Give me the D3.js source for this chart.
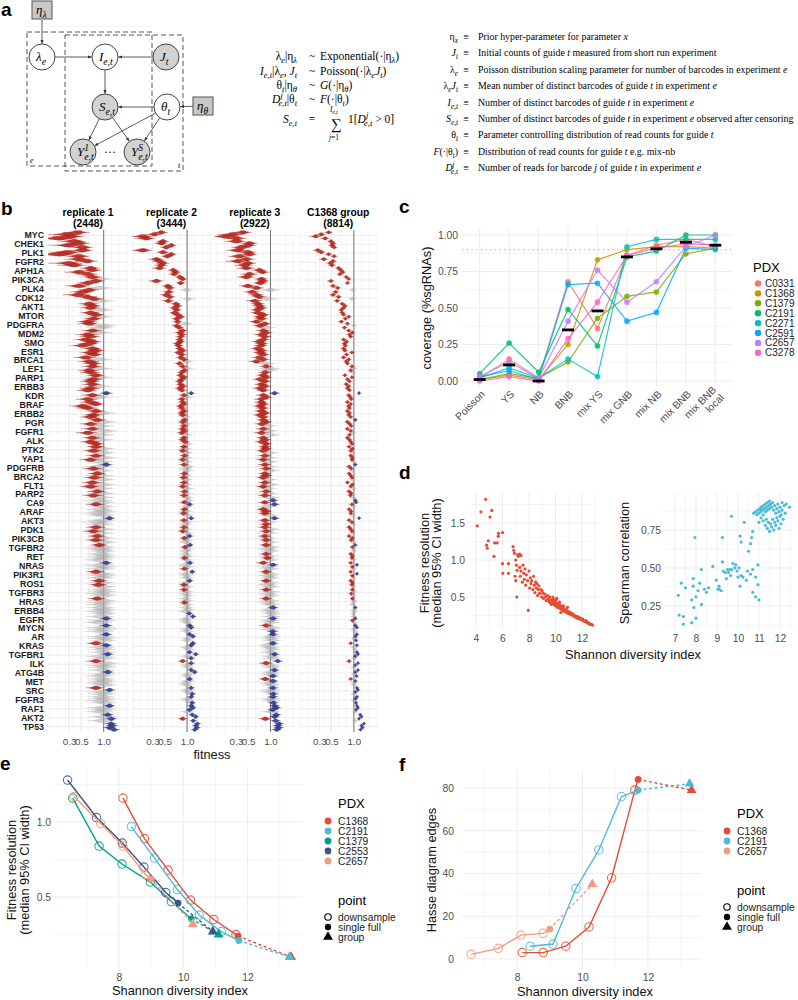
<!DOCTYPE html>
<html>
<head>
<meta charset="utf-8">
<script src="https://cdn.jsdelivr.net/npm/d3@7"></script>
<style>
  body { margin: 0; background: #fff; }
  svg { display: block; font-family: "Liberation Sans", Arial, sans-serif; }
</style>
</head>
<body>
<svg id="fig" width="798" height="1000"></svg>
<script>
// ---- panel a: model text ----
const equations = [
  ["λ_{e}|η_{λ}", "~", "Exponential(·|η_{λ})"],
  ["`I`_{e,t}|λ_{e}, `J`_{t}", "~", "Poisson(·|λ_{e}`J`_{t})"],
  ["θ_{t}|η_{θ}", "~", "`G`(·|η_{θ})"],
  ["`D`^{j}_{e,t}|θ_{t}", "~", "`F`(·|θ_{t})"]
];
const definitions = [
  ["η_{x}", "Prior hyper-parameter for parameter `x`"],
  ["`J`_{t}", "Initial counts of guide `t` measured from short run experiment"],
  ["λ_{e}", "Poisson distribution scaling parameter for number of barcodes in experiment `e`"],
  ["λ_{e}`J`_{t}", "Mean number of distinct barcodes of guide `t` in experiment `e`"],
  ["`I`_{e,t}", "Number of distinct barcodes of guide `t` in experiment `e`"],
  ["`S`_{e,t}", "Number of distinct barcodes of guide `t` in experiment `e` observed after censoring"],
  ["θ_{t}", "Parameter controlling distribution of read counts for guide `t`"],
  ["`F`(·|θ_{t})", "Distribution of read counts for guide `t` e.g. mix-nb"],
  ["`D`^{j}_{e,t}", "Number of reads for barcode `j` of guide `t` in experiment `e`"]
];

// ---- panel b: guide fitness per gene (fitness*100 + call r/g/b) ----
const genes = ["MYC","CHEK1","PLK1","FGFR2","APH1A","PIK3CA","PLK4","CDK12","AKT1","MTOR","PDGFRA","MDM2","SMO","ESR1","BRCA1","LEF1","PARP1","ERBB3","KDR","BRAF","ERBB2","PGR","FGFR1","ALK","PTK2","YAP1","PDGFRB","BRCA2","FLT1","PARP2","CA9","ARAF","AKT3","PDK1","PIK3CB","TGFBR2","RET","NRAS","PIK3R1","ROS1","TGFBR3","HRAS","ERBB4","EGFR","MYCN","AR","KRAS","TGFBR1","ILK","ATG4B","MET","SRC","FGFR3","RAF1","AKT2","TP53"];
const facetNames = ["replicate 1", "replicate 2", "replicate 3", "C1368 group"];
const facetCounts = ["(2448)", "(3444)", "(2922)", "(8814)"];
const fitTicks = [0.3, 0.5, 1.0];
const rep1Guides = ["44r 28r 33r 18r","38r 46r 30r 53r","53r 28r 18r 46r","46r 62r 30r 38r","69r 73r 46r 63r","73r 89g 81r 63r","46r 89g 66r 53r","44r 62r 77r 93g","66r 73r 69r 93g","69r 81r 89g 75r","63r 66r 100g 93g","73r 89g 63r 69r","59r 73r 66r 53r","73r 81r 69r 77r","59r 89g 66r 75r","73r 89g 66r 69r","81r 89g 75r 69r","73r 84g 69r 63r","107b 73r 89g 63r","69r 81r 53r 63r","81r 97g 75r 69r","84r 100g 69r 93g","73r 103g 63r 93g","73r 93g 69r 81r","81r 97g 75r 100g","81r 100g 69r 93g","107b 89g 75r 93g","84r 93g 77r 97g","73r 97g 69r 93g","84r 97g 75r 93g","89g 97g 81r 100g","93g 100g 87g 96g","116b 97g 87g 93g","81r 97g 75r 93g","84r 97g 81r 103g","89r 97g 93g 100g","93g 100g 96g 89g","107b 93g 100g 96g","81r 96g 100g 93g","89r 97g 87r 100g","96g 100g 93g 103g","84r 100g 96g 93g","96g 100g 93g 103g","93g 107b 100g 89g","107b 97g 100g 93g","107b 97g 100g 103g","81r 107b 97g 100g","100g 111b 93g 103g","81r 107g 97g 100g","97g 111b 100g 93g","97g 100g 93g 103g","81r 116b 97g 100g","96g 100g 93g 103g","116b 97g 100g 93g","111b 100g 121b 97g","120b 124b 116b 129b"];
const rep2Guides = ["44r 33r 18r 22r","47r 44r 63r 53r","18r 47r 63r 55r","36r 41r 47r 44r","41r 67r 73r 69r","82r 89r 36r 84r","56r 60r 99g 58r","53r 60r 103g 57r","73r 77r 70r 75r","70r 77r 84r 75r","77r 97g 75r 81r","89r 82r 87r 84r","82r 84r 77r 79r","82r 89r 79r 87r","84r 92r 99g 81r","89r 99g 93r 87r","84r 92r 87r 82r","84r 89r 82r 87r","111b 92r 99g 87r","89r 92r 84r 87r","92r 87r 89r 95g","93r 89r 96g 92r","89r 93r 87r 97g","92r 89r 95r 99g","92r 96g 89r 99g","93r 97g 89r 99g","92r 103g 96g 99g","93r 97g 91r 99g","92r 97g 89r 100g","93r 97g 92r 100g","103g 93r 107b 99g","93r 97g 91r 100g","111b 92r 99g 96g","92r 97g 89r 100g","107b 93r 99g 96g","108b 95r 100g 97g","96g 100g 93r 99g","108b 96g 100g 93r","114b 96g 100g 99g","107b 96g 92r 100g","92r 99g 96g 101g","96g 99g 93r 101g","99g 103g 96g 106b","116b 99g 96g 101g","107b 111b 99g 101g","107b 116b 103g 100g","116b 111b 100g 104g","107b 124b 101g 111b","89r 111b 100g 103g","111b 121b 103g 100g","107b 103g 96g 100g","111b 100g 103g 114b","111b 101g 104g 114b","111b 116b 107b 101g","114b 124b 89r 117b","129b 124b 128b 121b"];
const rep3Guides = ["41r 26r 18r 31r","31r 53r 50r 39r","33r 50r 53r 35r","47r 33r 50r 44r","47r 73r 81r 53r","47r 78r 81r 75r","50r 67r 100g 58r","67r 73r 93g 63r","70r 73r 77r 69r","70r 82r 75r 78r","67r 86r 75r 89g","82r 89r 78r 86r","82r 73r 79r 77r","70r 78r 75r 82r","73r 82r 67r 89g","89r 99g 93g 87r","82r 89r 75r 86r","78r 86r 75r 82r","111b 82r 89r 78r","78r 82r 75r 81r","78r 86r 75r 82r","82r 89r 79r 93g","82r 95g 78r 100g","82r 87r 79r 89r","86r 89r 82r 96g","86r 93g 82r 97g","86r 93g 89r 99g","86r 89r 82r 95g","86r 99g 82r 93g","89r 95g 86r 99g","107b 86r 111b 93g","82r 89r 86r 96g","111b 86r 93g 89r","86r 99g 89r 95g","86r 93g 89r 99g","89r 99g 93g 100g","89r 95g 92r 99g","82r 107b 93g 99g","89r 99g 95g 100g","89r 99g 93g 101g","89r 99g 95g 101g","89r 99g 95g 101g","107b 99g 101g 104g","103g 107b 99g 101g","89r 103g 99g 106b","107b 103g 100g 106g","107b 93g 100g 104g","99g 111b 103g 106g","120b 89r 100g 104g","111b 103g 100g 107b","87r 107b 99g 103g","107b 103g 100g 108b","107b 101g 104g 108b","111b 116b 106b 103g","116b 111b 87r 114b","124b 120b 123b 117b"];
const groupGuides = ["45r 33r 25r 39r","49r 53r 51r 55r","28r 33r 45r 55r","37r 53r 48r 51r","64r 69r 73r 67r","81r 87r 49r 84r","53r 62r 97g 58r","53r 64r 95g 61r","72r 78r 75r 70r","72r 75r 87r 79r","70r 84r 100g 77r","87r 96r 89r 92r","75r 82r 77r 79r","75r 78r 95r 82r","75r 87r 81r 84r","95r 100g 92r 97g","78r 95r 84r 89r","81r 87r 84r 89r","114b 87r 91r 93r","84r 92r 87r 89r","84r 89r 87r 92r","104b 84r 89r 93r","84r 92r 97g 89r","84r 89r 92r 95r","88r 96r 92r 97g","92r 96r 95r 99g","104b 88r 93r 97g","88r 92r 95r 97g","84r 96r 92r 99g","88r 93r 91r 97g","104b 106b 95r 99g","88r 93r 92r 97g","114b 88r 95r 99g","88r 92r 95r 97g","88r 96r 93r 99g","104b 96r 99g 100g","92r 96r 95r 99g","92r 108b 96r 99g","92r 108b 96r 100g","92r 96r 95r 99g","96r 100g 93r 99g","96r 100g 99g 97g","104b 100g 101g 99g","100g 104b 96r 101g","104b 108b 100g 103g","108b 104b 100g 106b","92r 108b 100g 103g","108b 111b 104b 101g","88r 111b 104b 100g","111b 104b 100g 107b","92r 104b 100g 101g","108b 111b 104b 100g","108b 104b 100g 106b","108b 111b 106b 103g","117b 121b 114b 103g","128b 121b 124b 118b"];
// posterior spread (sd in fitness units) by facet and call
const guideSd = [{r: 0.075, g: 0.12, b: 0.06}, {r: 0.04, g: 0.06, b: 0.035}, {r: 0.055, g: 0.085, b: 0.05}, {r: 0.024, g: 0.03, b: 0.022}];

// ---- panel c: coverage by model ----
const models = ["Poisson","YS","NB","BNB","mix YS","mix GNB","mix NB","mix BNB","mix BNB local"];
const pdxC = ["C0331","C1368","C1379","C2191","C2271","C2591","C2657","C3278"];
const coverage = [
  [0.02, 0.15, 0.02, 0.68, 0.36, 0.86, 0.93, 0.97, 0.92],
  [0.01, 0.04, 0.01, 0.25, 0.83, 0.90, 0.92, 0.92, 0.91],
  [0.01, 0.05, 0.02, 0.13, 0.43, 0.58, 0.61, 0.87, 0.91],
  [0.05, 0.26, 0.06, 0.49, 0.24, 0.85, 0.89, 1.00, 1.00],
  [0.02, 0.09, 0.02, 0.15, 0.03, 0.92, 0.97, 0.97, 0.97],
  [0.03, 0.07, 0.01, 0.66, 0.67, 0.41, 0.47, 0.91, 0.90],
  [0.03, 0.13, 0.02, 0.41, 0.76, 0.54, 0.68, 0.92, 1.00],
  [0.00, 0.03, 0.00, 0.29, 0.54, 0.86, 0.91, 0.94, 0.93]
];
const coverageMedian = [0.01, 0.11, 0.00, 0.35, 0.48, 0.85, 0.905, 0.95, 0.93];
const pdxCColours = ["#F8766D","#CD9600","#7CAE00","#00BE67","#00BFC4","#00A9FF","#C77CFF","#FF61CC"];

// ---- panel d: downsampled experiments ----
const dResolution = [[4.1,1.46],[4.38,1.65],[4.73,1.82],[5.06,1.58],[5.19,1.67],[4.8,1.2],[4.86,1.16],[4.93,1.26],[5.36,1.05],[5.4,1.23],[5.6,1.23],[5.7,1.36],[5.68,1.32],[6.0,1.37],[6.0,0.95],[6.02,0.82],[6.45,0.95],[6.45,0.82],[6.8,1.18],[6.85,1.13],[6.9,1.09],[7.0,1.0],[7.1,0.86],[7.08,0.5],[7.15,1.07],[7.2,1.05],[7.3,1.08],[7.4,1.06],[7.05,0.93],[6.95,0.78],[7.0,0.72],
  [7.3,0.9],[7.35,0.78],[7.4,0.85],[7.5,0.7],[7.55,0.93],[7.6,0.82],[7.65,0.74],[7.7,0.88],[7.75,0.66],[7.8,0.8],[7.9,0.72],[7.95,0.32],[8.0,0.85],[8.05,0.62],
  [8.1,0.76],[8.15,0.68],[8.2,0.72],[8.3,0.6],[8.35,0.78],[8.4,0.66],[8.45,0.56],[8.5,0.7],[8.55,0.62],[8.6,0.68],[8.65,0.52],[8.7,0.6],[8.75,0.65],[8.8,0.55],[8.9,0.6],[8.95,0.5],
  [9.0,0.58],[9.05,0.55],[9.1,0.48],[9.2,0.54],[9.25,0.5],[9.3,0.45],[9.4,0.52],[9.45,0.47],[9.5,0.44],[9.55,0.5],[9.6,0.42],[9.65,0.46],[9.7,0.4],[9.75,0.45],[9.8,0.42],[9.85,0.47],[9.9,0.4],[9.95,0.44],
  [10.0,0.38],[10.02,0.42],[10.05,0.46],[10.1,0.4],[10.15,0.36],[10.2,0.41],[10.25,0.38],[10.3,0.35],[10.35,0.39],[10.4,0.34],[10.45,0.37],[10.5,0.33],[10.55,0.36],[10.6,0.31],[10.65,0.34],[10.7,0.32],[10.75,0.3],[10.8,0.33],[10.85,0.29],[10.9,0.31],[10.95,0.28],
  [11.0,0.3],[11.05,0.27],[11.1,0.29],[11.2,0.26],[11.25,0.28],[11.3,0.25],[11.4,0.26],[11.45,0.23],[11.5,0.24],[11.6,0.22],[11.65,0.24],[11.7,0.21],[11.8,0.22],[11.85,0.2],[11.9,0.21],
  [12.0,0.19],[12.05,0.2],[12.1,0.18],[12.2,0.17],[12.3,0.18],[12.35,0.16],[12.4,0.15],[12.5,0.15],[12.55,0.14],[12.6,0.13],[12.7,0.13],[12.8,0.12],
  [10.1,0.48],[10.3,0.43],[10.6,0.38],[9.8,0.5],[10.4,0.29],[10.9,0.36]];
const dSpearman = [[7.16,0.32],[7.2,0.19],[7.4,0.18],[7.4,0.13],[7.8,0.14],[8.0,0.17],[7.9,0.24],[7.8,0.29],[7.87,0.38],[7.87,0.43],[7.5,0.37],[7.3,0.4],[8.26,0.49],[8.18,0.40],[8.1,0.35],[8.26,0.26],[8.4,0.36],[8.6,0.37],[7.95,0.70],[8.5,0.34],[8.0,0.31],
  [8.8,0.51],[8.97,0.42],[9.05,0.36],[9.1,0.36],[9.1,0.38],[9.2,0.35],[9.26,0.54],[9.3,0.48],[9.4,0.47],[9.5,0.49],[9.55,0.47],[9.6,0.49],[9.65,0.45],[9.7,0.49],[9.76,0.53],[9.85,0.5],[9.9,0.52],[9.95,0.48],[10.0,0.44],[10.05,0.5],[10.1,0.38],[10.15,0.45],[10.24,0.44],[10.4,0.42],[10.45,0.48],[10.7,0.49],[10.84,0.44],[10.95,0.52],[10.95,0.39],[10.84,0.31],[11.0,0.29],[10.7,0.34],[10.6,0.46],[9.26,0.70],[9.69,0.84],[9.45,0.43],
  [10.1,0.71],[10.15,0.67],[10.3,0.80],[10.5,0.61],[10.6,0.66],[10.65,0.70],[10.7,0.74],
  [10.75,0.86],[10.85,0.87],[10.9,0.85],[10.95,0.88],[11.0,0.86],[11.05,0.89],[11.1,0.87],[11.1,0.9],[11.15,0.88],[11.2,0.91],[11.25,0.89],[11.3,0.92],[11.3,0.87],[11.35,0.9],[11.4,0.93],[11.4,0.88],[11.45,0.91],[11.5,0.94],[11.5,0.89],[11.55,0.92],[11.6,0.9],[11.65,0.93],[11.7,0.88],[11.75,0.91],[11.8,0.86],[11.85,0.89],[11.9,0.92],[11.95,0.87],[12.0,0.9],[12.05,0.85],[12.1,0.88],[12.2,0.91],[12.3,0.92],[12.45,0.90],[12.1,0.93],
  [11.2,0.81],[11.3,0.78],[11.35,0.82],[11.4,0.76],[11.45,0.8],[11.5,0.74],[11.55,0.79],[11.6,0.77],[11.65,0.82],[11.7,0.75],[11.75,0.8],[11.8,0.78],[11.85,0.83],[11.9,0.81],[11.95,0.76],[12.0,0.84],[12.05,0.79],[12.15,0.82],[12.25,0.86],[11.1,0.83],[11.0,0.8],[11.2,0.85]];

// ---- panel e: resolution vs diversity ----
const pdxE = ["C1368","C2191","C1379","C2553","C2657"];
const pdxEColours = ["#E64B35","#4DBBD5","#00A087","#3C5488","#F39B7F"];
const eShannon = [[8.13,8.8,9.53,10.23,10.95,11.64,11.7,13.35],[8.39,9.11,9.82,10.5,11.18,11.73,13.3],[6.57,7.39,8.1,8.98,9.63,10.25,11.1],[6.41,7.31,8.11,8.78,9.46,9.84,10.92],[6.61,7.44,8.13,8.83,9.01,10.3]];
const eResolution = [[1.16,0.89,0.68,0.48,0.35,0.25,0.24,0.10],[0.97,0.76,0.55,0.38,0.27,0.21,0.10],[1.16,0.84,0.72,0.60,0.47,0.355,0.25],[1.28,1.03,0.86,0.70,0.53,0.46,0.27],[1.17,0.99,0.84,0.65,0.62,0.32]];
const eKind = [["d","d","d","d","d","d","s","g"],["d","d","d","d","d","s","g"],["d","d","d","d","d","s","g"],["d","d","d","d","d","s","g"],["d","d","d","d","s","g"]];

// ---- panel f: Hasse diagram edges ----
const pdxF = ["C1368","C2191","C2657"];
const pdxFColours = ["#E64B35","#4DBBD5","#F39B7F"];
const fShannon = [[8.16,8.8,9.49,10.2,10.89,11.6,11.7,13.33],[8.4,9.1,9.8,10.5,11.19,11.7,13.27],[6.6,7.43,8.12,8.8,9.0,10.3]];
const fEdges = [[3,3,6,15,38,79,84,79],[6,7,33,51,76,79,82],[2.2,5,11.2,12,14,35]];
const fKind = [["d","d","d","d","d","d","s","g"],["d","d","d","d","d","s","g"],["d","d","d","d","s","g"]];
const pointKinds = ["downsample", "single full", "group"];

const svg = d3.select("#fig");
const TICK = "#4d4d4d", GMAJ = "#e8e8e8", GMIN = "#f3f3f3";

// Write text with _{sub}, ^{sup} and `italic` markup
function mathText(sel, str, size) {
  const re = /(_|\^)\{([^}]*)\}|`([^`]*)`|([^_^`]+)/g;
  let m, shift = 0, lastSup = "";
  while ((m = re.exec(str))) {
    if (m[1]) {
      const s = m[1] === "_" ? size * 0.3 : -size * 0.42;
      const t = sel.append("tspan").attr("dy", s - shift).attr("font-size", size * 0.74)
        .attr("font-style", "italic").text(m[2]);
      if (m[1] === "_" && lastSup) t.attr("dx", -lastSup.length * size * 0.37);
      lastSup = m[1] === "^" ? m[2] : "";
      shift = s;
    } else {
      sel.append("tspan").attr("dy", -shift).attr("font-size", size)
        .attr("font-style", m[3] ? "italic" : null).text(m[3] || m[4]);
      shift = 0; lastSup = "";
    }
  }
}

function panelLabel(t, x, y) {
  svg.append("text").attr("x", x).attr("y", y).attr("font-size", 19)
    .attr("font-weight", "bold").text(t);
}

function drawGrid(g, xs, ys, xMaj, xMin, yMaj, yMin) {
  const [x0, x1] = xs.range(), [y0, y1] = ys.range();
  const vl = (vals, col) => g.append("g").selectAll("line").data(vals).join("line")
    .attr("x1", d => xs(d)).attr("x2", d => xs(d)).attr("y1", y0).attr("y2", y1)
    .attr("stroke", col).attr("stroke-width", 0.8);
  const hl = (vals, col) => g.append("g").selectAll("line").data(vals).join("line")
    .attr("y1", d => ys(d)).attr("y2", d => ys(d)).attr("x1", x0).attr("x2", x1)
    .attr("stroke", col).attr("stroke-width", 0.8);
  vl(xMin, GMIN); hl(yMin, GMIN); vl(xMaj, GMAJ); hl(yMaj, GMAJ);
}

function styleAxis(g, size) {
  g.select(".domain").remove();
  g.attr("font-family", null).attr("font-size", null);
  g.selectAll("text").attr("fill", TICK).attr("font-size", size || 10.3);
}

function axisTitle(text, x, y, rotate) {
  const t = svg.append("text").attr("font-size", 12.8).attr("fill", "#111")
    .attr("text-anchor", "middle").attr("dy", "0.35em").text(text);
  if (rotate) t.attr("transform", `translate(${x},${y}) rotate(-90)`);
  else t.attr("x", x).attr("y", y);
}

// ================= panel a =================
panelLabel("a", 1, 16);
const ga = svg.append("g").attr("font-family", "'Liberation Serif', 'DejaVu Serif', serif");
ga.append("defs").append("marker").attr("id", "arr").attr("viewBox", "0 0 10 10")
  .attr("refX", 9).attr("refY", 5).attr("markerWidth", 5).attr("markerHeight", 5)
  .attr("orient", "auto").append("path").attr("d", "M0,1 L10,5 L0,9 Z").attr("fill", "#333");

ga.append("rect").attr("x", 27).attr("y", 32).attr("width", 125).attr("height", 134)
  .attr("fill", "none").attr("stroke", "#555").attr("stroke-dasharray", "5,3");
ga.append("rect").attr("x", 65).attr("y", 35).attr("width", 118).attr("height", 136)
  .attr("fill", "none").attr("stroke", "#555").attr("stroke-dasharray", "5,3");
ga.append("text").attr("x", 30).attr("y", 163).attr("font-size", 8).attr("font-style", "italic").text("e");
ga.append("text").attr("x", 178).attr("y", 168).attr("font-size", 8).attr("font-style", "italic").text("t");

const gmNodes = [
  {id: "lam", x: 42, y: 57, obs: false, label: "λ_{e}"},
  {id: "I", x: 105, y: 57, obs: false, label: "`I`_{e,t}"},
  {id: "J", x: 166, y: 57, obs: true, label: "`J`_{t}"},
  {id: "S", x: 105, y: 107, obs: true, label: "`S`_{e,t}"},
  {id: "th", x: 167, y: 107, obs: false, label: "θ_{t}"},
  {id: "Y1", x: 83, y: 152, obs: true, label: "`Y`^{1}_{e,t}"},
  {id: "YS", x: 137, y: 152, obs: true, label: "`Y`^{S}_{e,t}"},
  {id: "el", x: 42, y: 10, box: true, label: "η_{λ}"},
  {id: "et", x: 203, y: 106, box: true, label: "η_{θ}"}
];
const gmEdges = [["el","lam"],["lam","I"],["J","I"],["I","S"],["th","S"],["et","th"],["S","Y1"],["S","YS"],["th","Y1"],["th","YS"]];
const nodeById = new Map(gmNodes.map(n => [n.id, n]));
gmEdges.forEach(([s, t]) => {
  const a = nodeById.get(s), b = nodeById.get(t);
  const dx = b.x - a.x, dy = b.y - a.y, len = Math.hypot(dx, dy);
  const ra = a.box ? 10 : 13, rb = b.box ? 10 : 13.5;
  ga.append("line")
    .attr("x1", a.x + dx / len * ra).attr("y1", a.y + dy / len * ra)
    .attr("x2", b.x - dx / len * rb).attr("y2", b.y - dy / len * rb)
    .attr("stroke", "#333").attr("stroke-width", 0.8).attr("marker-end", "url(#arr)");
});
gmNodes.forEach(n => {
  if (n.box) {
    ga.append("rect").attr("x", n.x - 10).attr("y", n.y - 9).attr("width", 20).attr("height", 18)
      .attr("fill", "#c8c8c8").attr("stroke", "#555");
  } else {
    ga.append("circle").attr("cx", n.x).attr("cy", n.y).attr("r", 13)
      .attr("fill", n.obs ? "#d2d2d2" : "#fff").attr("stroke", "#444");
  }
  const t = ga.append("text").attr("x", n.x - 6).attr("y", n.y + 4).attr("font-style", "italic");
  mathText(t, n.label, 13);
});
ga.append("text").attr("x", 110).attr("y", 156).attr("text-anchor", "middle").attr("font-size", 12).text("···");

// equations
const eqY = [56, 71, 85, 99];
equations.forEach((eq, i) => {
  const l = ga.append("text").attr("x", 297).attr("y", eqY[i] + 4).attr("text-anchor", "end");
  mathText(l, eq[0], 11.5);
  ga.append("text").attr("x", 312).attr("y", eqY[i] + 4).attr("text-anchor", "middle").attr("font-size", 11.5).text(eq[1]);
  const r = ga.append("text").attr("x", 320).attr("y", eqY[i] + 4);
  mathText(r, eq[2], 11.5);
});
const sl = ga.append("text").attr("x", 297).attr("y", 123).attr("text-anchor", "end");
mathText(sl, "`S`_{e,t}", 11.5);
ga.append("text").attr("x", 312).attr("y", 123).attr("text-anchor", "middle").attr("font-size", 11.5).text("=");
ga.append("text").attr("x", 336).attr("y", 129).attr("text-anchor", "middle").attr("font-size", 15).text("∑");
mathText(ga.append("text").attr("x", 330).attr("y", 112), "`I`_{e,t}", 7.5);
mathText(ga.append("text").attr("x", 329).attr("y", 140), "`j`=1", 7.5);
mathText(ga.append("text").attr("x", 348).attr("y", 123), "1[`D`^{j}_{e,t} > 0]", 11.5);

// definitions, font fitted so the longest line spans the reference width
function drawDefinitions(size) {
  const g = ga.append("g");
  definitions.forEach((d, i) => {
    const y = 40 + i * 16.4;
    mathText(g.append("text").attr("x", 458).attr("y", y).attr("text-anchor", "end"), d[0], size);
    g.append("text").attr("x", 466).attr("y", y).attr("text-anchor", "middle").attr("font-size", size).text("≡");
    mathText(g.append("text").attr("class", "deftext").attr("x", 478).attr("y", y), d[1], size);
  });
  return g;
}
let defG = drawDefinitions(10);
const longest = d3.max(defG.selectAll(".deftext").nodes(), n => n.getComputedTextLength());
defG.remove();
drawDefinitions(Math.min(11, 10 * 316 / longest));

// ================= panel b =================
panelLabel("b", 1, 215);
const bTop = 230, bBottom = 732, facetX0 = 48, facetW = 80, facetStep = 83.4;
const yGene = d3.scalePoint().domain(genes).range([bTop, bBottom]).padding(0.6);
const xFit = d3.scaleSqrt().domain([0.074, 1.737]).range([0, facetW]);
const fitMinor = d3.range(0.3, 1.35, 0.1).map(s => s * s);
const guideOffsets = [-3, -1, 1, 3];
const callColour = {r: "#b3261e", g: "#a8a8a8", b: "#323a8c"};
const violinArea = d3.area().x(d => d[0]).y0(d => d[1]).y1(d => d[2]).curve(d3.curveBasis);
const facetGuides = [rep1Guides, rep2Guides, rep3Guides, groupGuides];
const violinH = [2.0, 2.0, 2.0, 1.8];

const gb = svg.append("g");
gb.append("g").selectAll("text").data(genes).join("text")
  .attr("x", 44).attr("y", d => yGene(d)).attr("dy", "0.35em").attr("text-anchor", "end")
  .attr("font-size", 8.8).attr("font-weight", "bold").attr("fill", "#1a1a1a").text(d => d);

facetGuides.forEach((rows, f) => {
  const x0 = facetX0 + f * facetStep;
  const g = gb.append("g").attr("transform", `translate(${x0},0)`);
  const ys = d3.scaleLinear().range([bTop, bBottom]);
  drawGrid(g, xFit, ys, fitTicks, fitMinor, [], []);
  g.append("g").selectAll("line").data(genes).join("line")
    .attr("x1", 0).attr("x2", facetW).attr("y1", d => yGene(d)).attr("y2", d => yGene(d))
    .attr("stroke", GMAJ).attr("stroke-width", 0.8);
  g.append("line").attr("x1", xFit(1)).attr("x2", xFit(1)).attr("y1", bTop).attr("y2", bBottom)
    .attr("stroke", "#666").attr("stroke-width", 0.9);

  const guides = [];
  rows.forEach((row, gi) => {
    row.split(" ").forEach((tok, k) => {
      guides.push({gene: genes[gi], k, v: +tok.slice(0, -1) / 100, call: tok.slice(-1)});
    });
  });
  guides.sort((a, b) => (a.call === "g" ? 0 : 1) - (b.call === "g" ? 0 : 1));
  g.append("g").selectAll("path").data(guides).join("path")
    .attr("d", d => {
      const sd = guideSd[f][d.call], yc = yGene(d.gene) + guideOffsets[d.k];
      const pts = d3.range(-12, 13).map(j => {
        const u = j / 4;
        const h = violinH[f] * Math.exp(-u * u / 2);
        return [xFit(Math.max(0.075, d.v + u * sd)), yc - h, yc + h];
      });
      return violinArea(pts);
    })
    .attr("fill", d => callColour[d.call])
    .attr("fill-opacity", d => d.call === "g" ? 0.55 : 0.92)
    .attr("stroke", d => callColour[d.call]).attr("stroke-width", 0.3).attr("stroke-opacity", 0.5);

  const ax = g.append("g").attr("transform", `translate(0,${bBottom})`)
    .call(d3.axisBottom(xFit).tickValues(fitTicks).tickFormat(d3.format(".1f")).tickSize(0).tickPadding(6));
  styleAxis(ax, 9.8);

  gb.append("text").attr("x", x0 + facetW / 2).attr("y", 216).attr("text-anchor", "middle")
    .attr("font-size", 10.3).attr("font-weight", "bold").text(facetNames[f]);
  gb.append("text").attr("x", x0 + facetW / 2).attr("y", 227).attr("text-anchor", "middle")
    .attr("font-size", 10.3).attr("font-weight", "bold").text(facetCounts[f]);
});
axisTitle("fitness", 212, 755);

// ================= panel c =================
panelLabel("c", 399, 213);
const xModel = d3.scalePoint().domain(models).range([462, 733]).padding(0.6);
const yCov = d3.scaleLinear().domain([-0.05, 1.05]).range([388.3, 227.7]);
const gc = svg.append("g");
drawGrid(gc, xModel, yCov, models, [], [0, 0.25, 0.5, 0.75, 1], [0.125, 0.375, 0.625, 0.875]);
gc.append("line").attr("x1", 462).attr("x2", 733).attr("y1", yCov(0.9)).attr("y2", yCov(0.9))
  .attr("stroke", "#b0b0b0").attr("stroke-width", 1.1).attr("stroke-dasharray", "1.2,3.5");
const covLine = d3.line().x((d, i) => xModel(models[i])).y(d => yCov(d));
gc.append("g").selectAll("path").data(coverage).join("path")
  .attr("d", covLine).attr("fill", "none")
  .attr("stroke", (d, i) => pdxCColours[i]).attr("stroke-width", 1.2).attr("stroke-opacity", 0.85);
coverage.forEach((row, i) => {
  gc.append("g").selectAll("circle").data(row).join("circle")
    .attr("cx", (d, j) => xModel(models[j])).attr("cy", d => yCov(d)).attr("r", 2.8)
    .attr("fill", pdxCColours[i]).attr("fill-opacity", 0.85);
});
gc.append("g").selectAll("rect").data(coverageMedian).join("rect")
  .attr("x", (d, j) => xModel(models[j]) - 6).attr("y", d => yCov(d) - 1.4)
  .attr("width", 12).attr("height", 2.8).attr("fill", "#000");
const cy = gc.append("g").attr("transform", "translate(462,0)")
  .call(d3.axisLeft(yCov).tickValues([0, 0.25, 0.5, 0.75, 1]).tickFormat(d3.format(".2f")).tickSize(0).tickPadding(4));
styleAxis(cy);
gc.append("g").selectAll("text").data(models).join("text")
  .attr("transform", d => `translate(${xModel(d) + 3},${392}) rotate(-45)`)
  .attr("text-anchor", "end").attr("font-size", 10.3).attr("fill", TICK)
  .each(function(d) {
    const parts = d === "mix BNB local" ? ["mix BNB", "local"] : [d];
    const t = d3.select(this);
    parts.forEach((p, k) => t.append("tspan").attr("x", 0).attr("y", parts.length > 1 ? (k === 0 ? -2 : 9) : 4).text(p));
  });
axisTitle("coverage (%sgRNAs)", 427, 308, true);
gc.append("text").attr("x", 753).attr("y", 272).attr("font-size", 13).text("PDX");
pdxC.forEach((p, i) => {
  const y = 283.5 + i * 9.9;
  gc.append("circle").attr("cx", 758).attr("cy", y).attr("r", 3.2).attr("fill", pdxCColours[i]);
  gc.append("text").attr("x", 765).attr("y", y).attr("dy", "0.35em").attr("font-size", 10).attr("fill", "#222").text(p);
});

// ================= panel d =================
panelLabel("d", 399, 479);
const gd = svg.append("g");
const xdL = d3.scaleLinear().domain([3.4, 13.13]).range([468, 597]);
const ydL = d3.scaleLinear().domain([0.054, 1.905]).range([630, 493]);
drawGrid(gd, xdL, ydL, [4, 6, 8, 10, 12], [5, 7, 9, 11, 13], [0.5, 1.0, 1.5], [0.25, 0.75, 1.25, 1.75]);
gd.append("g").selectAll("circle").data(dResolution).join("circle")
  .attr("cx", d => xdL(d[0])).attr("cy", d => ydL(d[1])).attr("r", 1.6).attr("fill", "#E64B35");
styleAxis(gd.append("g").attr("transform", "translate(468,0)")
  .call(d3.axisLeft(ydL).tickValues([0.5, 1.0, 1.5]).tickFormat(d3.format(".1f")).tickSize(0).tickPadding(3)));
styleAxis(gd.append("g").attr("transform", "translate(0,630)")
  .call(d3.axisBottom(xdL).tickValues([4, 6, 8, 10, 12]).tickFormat(d3.format("d")).tickSize(0).tickPadding(5)));
axisTitle("Fitness resolution", 425, 563, true);
axisTitle("(median 95% CI width)", 437, 563, true);

const xdR = d3.scaleLinear().domain([6.43, 12.62]).range([663, 793]);
const ydR = d3.scaleLinear().domain([0.092, 0.993]).range([630, 493]);
drawGrid(gd, xdR, ydR, [7, 8, 9, 10, 11, 12], [7.5, 8.5, 9.5, 10.5, 11.5, 12.5], [0.25, 0.5, 0.75], [0.125, 0.375, 0.625, 0.875]);
gd.append("g").selectAll("circle").data(dSpearman).join("circle")
  .attr("cx", d => xdR(d[0])).attr("cy", d => ydR(d[1])).attr("r", 1.6).attr("fill", "#4DBBD5");
styleAxis(gd.append("g").attr("transform", "translate(663,0)")
  .call(d3.axisLeft(ydR).tickValues([0.25, 0.5, 0.75]).tickFormat(d3.format(".2f")).tickSize(0).tickPadding(2)));
styleAxis(gd.append("g").attr("transform", "translate(0,630)")
  .call(d3.axisBottom(xdR).tickValues([7, 8, 9, 10, 11, 12]).tickFormat(d3.format("d")).tickSize(0).tickPadding(5)));
axisTitle("Spearman correlation", 625, 563, true);
axisTitle("Shannon diversity index", 633, 655);

// ================= panels e and f =================
const triangle = d3.symbol(d3.symbolTriangle).size(42);

function drawSeries(g, xs, ys, shannon, vals, kinds, colours) {
  shannon.forEach((sh, i) => {
    const pts = sh.map((s, j) => ({x: xs(s), y: ys(vals[i][j]), k: kinds[i][j]}));
    const solid = pts.filter(p => p.k !== "g");
    const tail = pts.filter(p => p.k !== "d");
    const line = d3.line().x(p => p.x).y(p => p.y);
    g.append("path").attr("d", line(tail)).attr("fill", "none").attr("stroke", colours[i])
      .attr("stroke-width", 1.4).attr("stroke-dasharray", "3,2.5");
    g.append("path").attr("d", line(solid)).attr("fill", "none").attr("stroke", colours[i]).attr("stroke-width", 1.4);
    pts.forEach(p => {
      if (p.k === "d") {
        g.append("circle").attr("cx", p.x).attr("cy", p.y).attr("r", 4.2).attr("fill", "none")
          .attr("stroke", colours[i]).attr("stroke-width", 1.1).attr("stroke-opacity", 0.85);
      } else if (p.k === "s") {
        g.append("circle").attr("cx", p.x).attr("cy", p.y).attr("r", 3.4).attr("fill", colours[i]);
      } else {
        g.append("path").attr("d", triangle).attr("transform", `translate(${p.x},${p.y})`).attr("fill", colours[i]);
      }
    });
  });
}

function drawLegend(g, x, yTitle, names, colours, yPoint) {
  g.append("text").attr("x", x).attr("y", yTitle).attr("font-size", 13).text("PDX");
  names.forEach((n, i) => {
    const y = yTitle + 13 + i * 10;
    g.append("circle").attr("cx", x - 10).attr("cy", y).attr("r", 3.4).attr("fill", colours[i]);
    g.append("text").attr("x", x).attr("y", y).attr("dy", "0.35em").attr("font-size", 10.3).attr("fill", "#222").text(n);
  });
  g.append("text").attr("x", x).attr("y", yPoint).attr("font-size", 13).text("point");
  pointKinds.forEach((n, i) => {
    const y = yPoint + 12 + i * 10, cx = x - 10;
    if (i === 0) g.append("circle").attr("cx", cx).attr("cy", y).attr("r", 3.2).attr("fill", "none").attr("stroke", "#000").attr("stroke-width", 1.1);
    else if (i === 1) g.append("circle").attr("cx", cx).attr("cy", y).attr("r", 3.2).attr("fill", "#000");
    else g.append("path").attr("d", triangle).attr("transform", `translate(${cx},${y})`).attr("fill", "#000");
    g.append("text").attr("x", x).attr("y", y).attr("dy", "0.35em").attr("font-size", 10.3).attr("fill", "#222").text(n);
  });
}

panelLabel("e", 0, 770);
const ge = svg.append("g");
const xE = d3.scaleLinear().domain([6.02, 13.72]).range([55, 303]);
const yE = d3.scaleLinear().domain([0.027, 1.367]).range([968, 767]);
drawGrid(ge, xE, yE, [8, 10, 12], [7, 9, 11, 13], [0.5, 1.0], [0.25, 0.75, 1.25]);
drawSeries(ge, xE, yE, eShannon, eResolution, eKind, pdxEColours);
styleAxis(ge.append("g").attr("transform", "translate(55,0)")
  .call(d3.axisLeft(yE).tickValues([0.5, 1.0]).tickFormat(d3.format(".1f")).tickSize(0).tickPadding(4)));
styleAxis(ge.append("g").attr("transform", "translate(0,968)")
  .call(d3.axisBottom(xE).tickValues([8, 10, 12]).tickSize(0).tickPadding(6)));
axisTitle("Fitness resolution", 12, 870, true);
axisTitle("(median 95% CI width)", 25, 870, true);
axisTitle("Shannon diversity index", 180, 991);
drawLegend(ge, 338, 808, pdxE, pdxEColours, 905);

panelLabel("f", 399, 771);
const gf = svg.append("g");
const xF = d3.scaleLinear().domain([6.32, 13.65]).range([462, 702]);
const yF = d3.scaleLinear().domain([-4.2, 88.4]).range([968, 770]);
drawGrid(gf, xF, yF, [8, 10, 12], [7, 9, 11, 13], [0, 20, 40, 60, 80], [10, 30, 50, 70]);
drawSeries(gf, xF, yF, fShannon, fEdges, fKind, pdxFColours);
styleAxis(gf.append("g").attr("transform", "translate(462,0)")
  .call(d3.axisLeft(yF).tickValues([0, 20, 40, 60, 80]).tickSize(0).tickPadding(8)));
styleAxis(gf.append("g").attr("transform", "translate(0,968)")
  .call(d3.axisBottom(xF).tickValues([8, 10, 12]).tickSize(0).tickPadding(6)));
axisTitle("Hasse diagram edges", 432, 870, true);
axisTitle("Shannon diversity index", 585, 992);
drawLegend(gf, 737, 818, pdxF, pdxFColours, 895);
</script>
</body>
</html>
